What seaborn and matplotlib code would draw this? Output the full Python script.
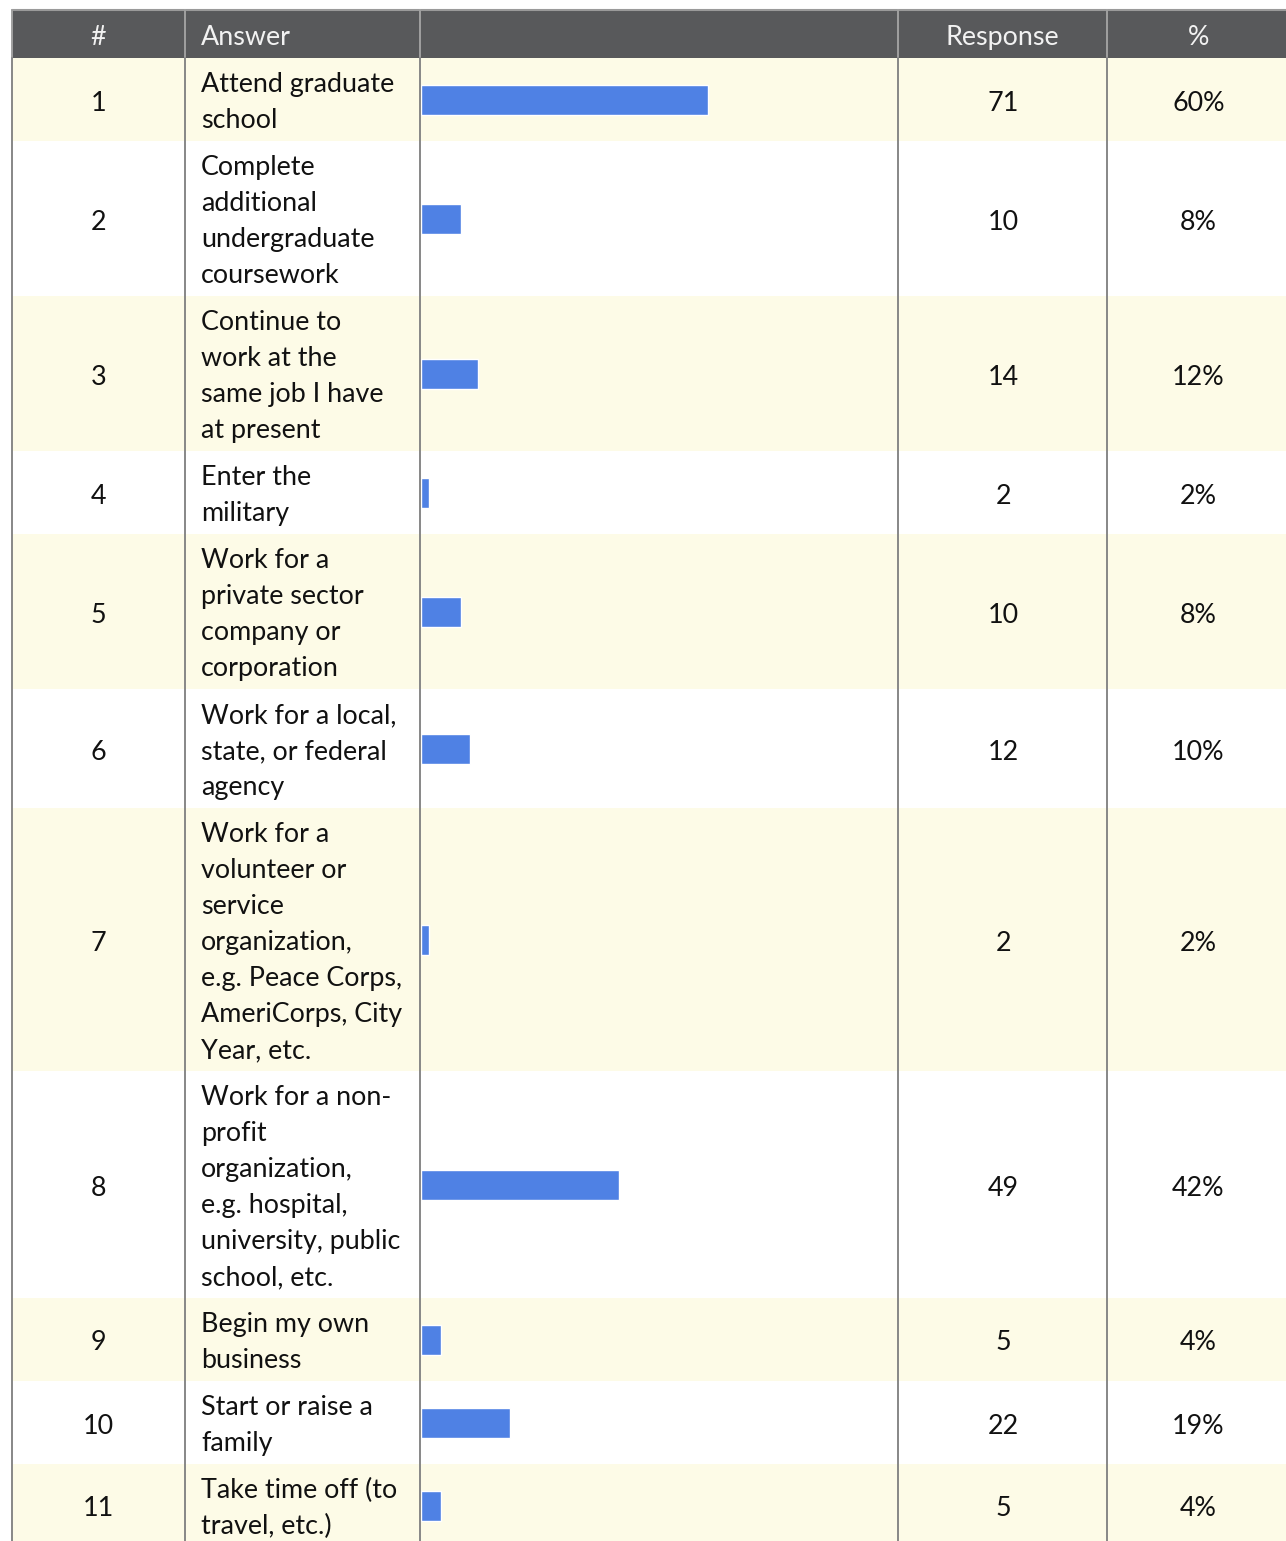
import matplotlib
matplotlib.use("Agg")
import matplotlib.pyplot as plt
from matplotlib.patches import Rectangle
import numpy as np
import seaborn as sns

sns.set_theme(style="white")
plt.rcParams['font.family'] = ['Lato', 'DejaVu Sans']

# survey data
answers = [
    "Attend graduate\nschool",
    "Complete\nadditional\nundergraduate\ncoursework",
    "Continue to\nwork at the\nsame job I have\nat present",
    "Enter the\nmilitary",
    "Work for a\nprivate sector\ncompany or\ncorporation",
    "Work for a local,\nstate, or federal\nagency",
    "Work for a\nvolunteer or\nservice\norganization,\ne.g. Peace Corps,\nAmeriCorps, City\nYear, etc.",
    "Work for a non-\nprofit\norganization,\ne.g. hospital,\nuniversity, public\nschool, etc.",
    "Begin my own\nbusiness",
    "Start or raise a\nfamily",
    "Take time off (to\ntravel, etc.)",
]
responses = [71, 10, 14, 2, 10, 12, 2, 49, 5, 22, 5]
percents = ["60%", "8%", "12%", "2%", "8%", "10%", "2%", "42%", "4%", "19%", "4%"]
headers = ["#", "Answer", "", "Response", "%"]
total = 118

W, H = 1286, 1541
HEADER_COLOR = "#58595b"
YELLOW = "#fdfbe7"
BAR_COLOR = "#4f81e4"
LINE_COLOR = "#878787"
FS = 19.4

# column edges (pixels)
cols = [12, 185, 420, 898, 1107, 1290]
header_top, header_bottom = 10, 58
line_h = 36

# row layout from number of text lines
n_lines = [a.count("\n") + 1 for a in answers]
heights = [line_h * n + 11 for n in n_lines]
tops = header_bottom + np.concatenate([[0], np.cumsum(heights)[:-1]])
centers = tops + np.array(heights) / 2

fig = plt.figure(figsize=(W / 100, H / 100), dpi=100)
ax = fig.add_axes([0, 0, 1, 1])
ax.set_xlim(0, W)
ax.set_ylim(H, 0)
ax.axis("off")

# header
ax.add_patch(Rectangle((cols[0], header_top), W - cols[0], header_bottom - header_top,
                       color=HEADER_COLOR, lw=0))
ax.plot([cols[0], W], [header_top, header_top], color="#9a9a9a", lw=1.5)
for i, h in enumerate(headers):
    if i == 1:
        ax.text(cols[1] + 16, 45, h, color="#f2f2f2", fontsize=FS, va="baseline", ha="left")
    else:
        ax.text((cols[i] + min(cols[i + 1], W + 4)) / 2, 45, h, color="#f2f2f2",
                fontsize=FS, va="baseline", ha="center")

# body rows
for i in range(len(answers)):
    if i % 2 == 0:
        ax.add_patch(Rectangle((cols[0], tops[i]), W - cols[0], heights[i],
                               color=YELLOW, lw=0))
    base = centers[i] + 11
    ax.text((cols[0] + cols[1]) / 2, base, str(i + 1), fontsize=FS, ha="center",
            va="baseline", color="#111111")
    ax.text((cols[3] + cols[4]) / 2 + 1, base, str(responses[i]), fontsize=FS, ha="center",
            va="baseline", color="#111111")
    ax.text((cols[4] + W + 4) / 2, base, percents[i], fontsize=FS, ha="center",
            va="baseline", color="#111111")
    lines = answers[i].split("\n")
    for j, ln in enumerate(lines):
        y = centers[i] + (j - (len(lines) - 1) / 2) * line_h + 10.5
        ax.text(cols[1] + 16, y, ln, fontsize=FS, ha="left", va="baseline", color="#111111")

# vertical grid lines
for x in cols[:5]:
    ax.plot([x, x], [header_top, header_bottom], color="#a0a0a0", lw=1.4)
    ax.plot([x, x], [header_bottom, H], color=LINE_COLOR, lw=1.4)

# bar column
bx0 = (cols[2] + 1) / W
bax = fig.add_axes([bx0, 0, (cols[3] - cols[2] - 1) / W, 1])
bax.patch.set_alpha(0)
native = np.min(np.diff(centers))
sns.barplot(x=responses, y=centers, orient="h", native_scale=True,
            color=BAR_COLOR, saturation=1, width=30 / native, ax=bax)
bax.set_xlim(0, total)
bax.set_ylim(H, 0)
bax.axis("off")

fig.savefig("out.png", dpi=100)
